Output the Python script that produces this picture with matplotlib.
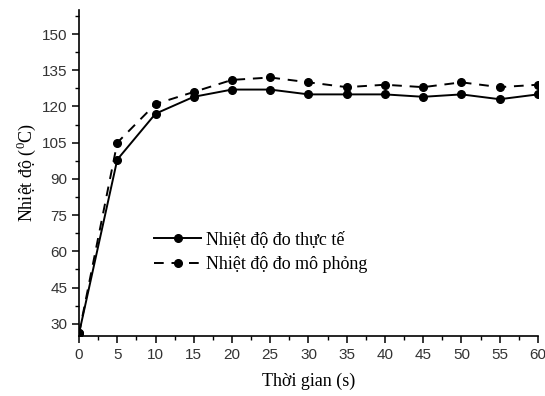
import matplotlib
matplotlib.use('Agg')
import matplotlib.pyplot as plt
from matplotlib.ticker import MultipleLocator

# data
time_s = [0, 5, 10, 15, 20, 25, 30, 35, 40, 45, 50, 55, 60]
temp_measured = [26, 98, 117, 124, 127, 127, 125, 125, 125, 124, 125, 123, 125]
temp_simulated = [26, 105, 121, 126, 131, 132, 130, 128, 129, 128, 130, 128, 129]

label_measured = 'Nhiệt độ đo thực tế'
label_simulated = 'Nhiệt độ đo mô phỏng'

plt.rcParams['mathtext.fontset'] = 'custom'
plt.rcParams['mathtext.rm'] = 'Liberation Serif'

fig = plt.figure(figsize=(5.45, 3.96), dpi=100)
ax = fig.add_axes([0.145, 0.152, 0.842, 0.823])

ax.plot(time_s, temp_measured, '-o', color='black', linewidth=1.4, markersize=5.5,
        label=label_measured)
ax.plot(time_s, temp_simulated, '--o', color='black', linewidth=1.4, markersize=5.5,
        dashes=(5, 4), label=label_simulated)

ax.set_xlim(0, 60)
ax.set_ylim(25, 160)
ax.xaxis.set_major_locator(MultipleLocator(5))
ax.xaxis.set_minor_locator(MultipleLocator(2.5))
ax.yaxis.set_major_locator(MultipleLocator(15))
ax.yaxis.set_minor_locator(MultipleLocator(7.5))
ax.set_yticks(range(30, 151, 15))

ax.spines['top'].set_visible(False)
ax.spines['right'].set_visible(False)
for s in ['left', 'bottom']:
    ax.spines[s].set_linewidth(1.2)
ax.tick_params(which='major', direction='out', length=5, width=1.1,
               labelsize=11, labelfontfamily='Liberation Sans', labelcolor='#333333')
ax.tick_params(which='minor', direction='out', length=3, width=1.0)

ax.set_xlabel('Thời gian (s)', fontsize=13, family='Liberation Serif', labelpad=8)
ax.set_ylabel('Nhiệt độ ($^{0}$C)', fontsize=13, family='Liberation Serif', labelpad=3)

leg = ax.legend(loc='center left', bbox_to_anchor=(0.144, 0.256), frameon=False,
                prop={'family': 'Liberation Serif', 'size': 13}, borderpad=0,
                handlelength=2.6, handletextpad=0.3, labelspacing=0.4)

fig.savefig('out.png', dpi=100)
